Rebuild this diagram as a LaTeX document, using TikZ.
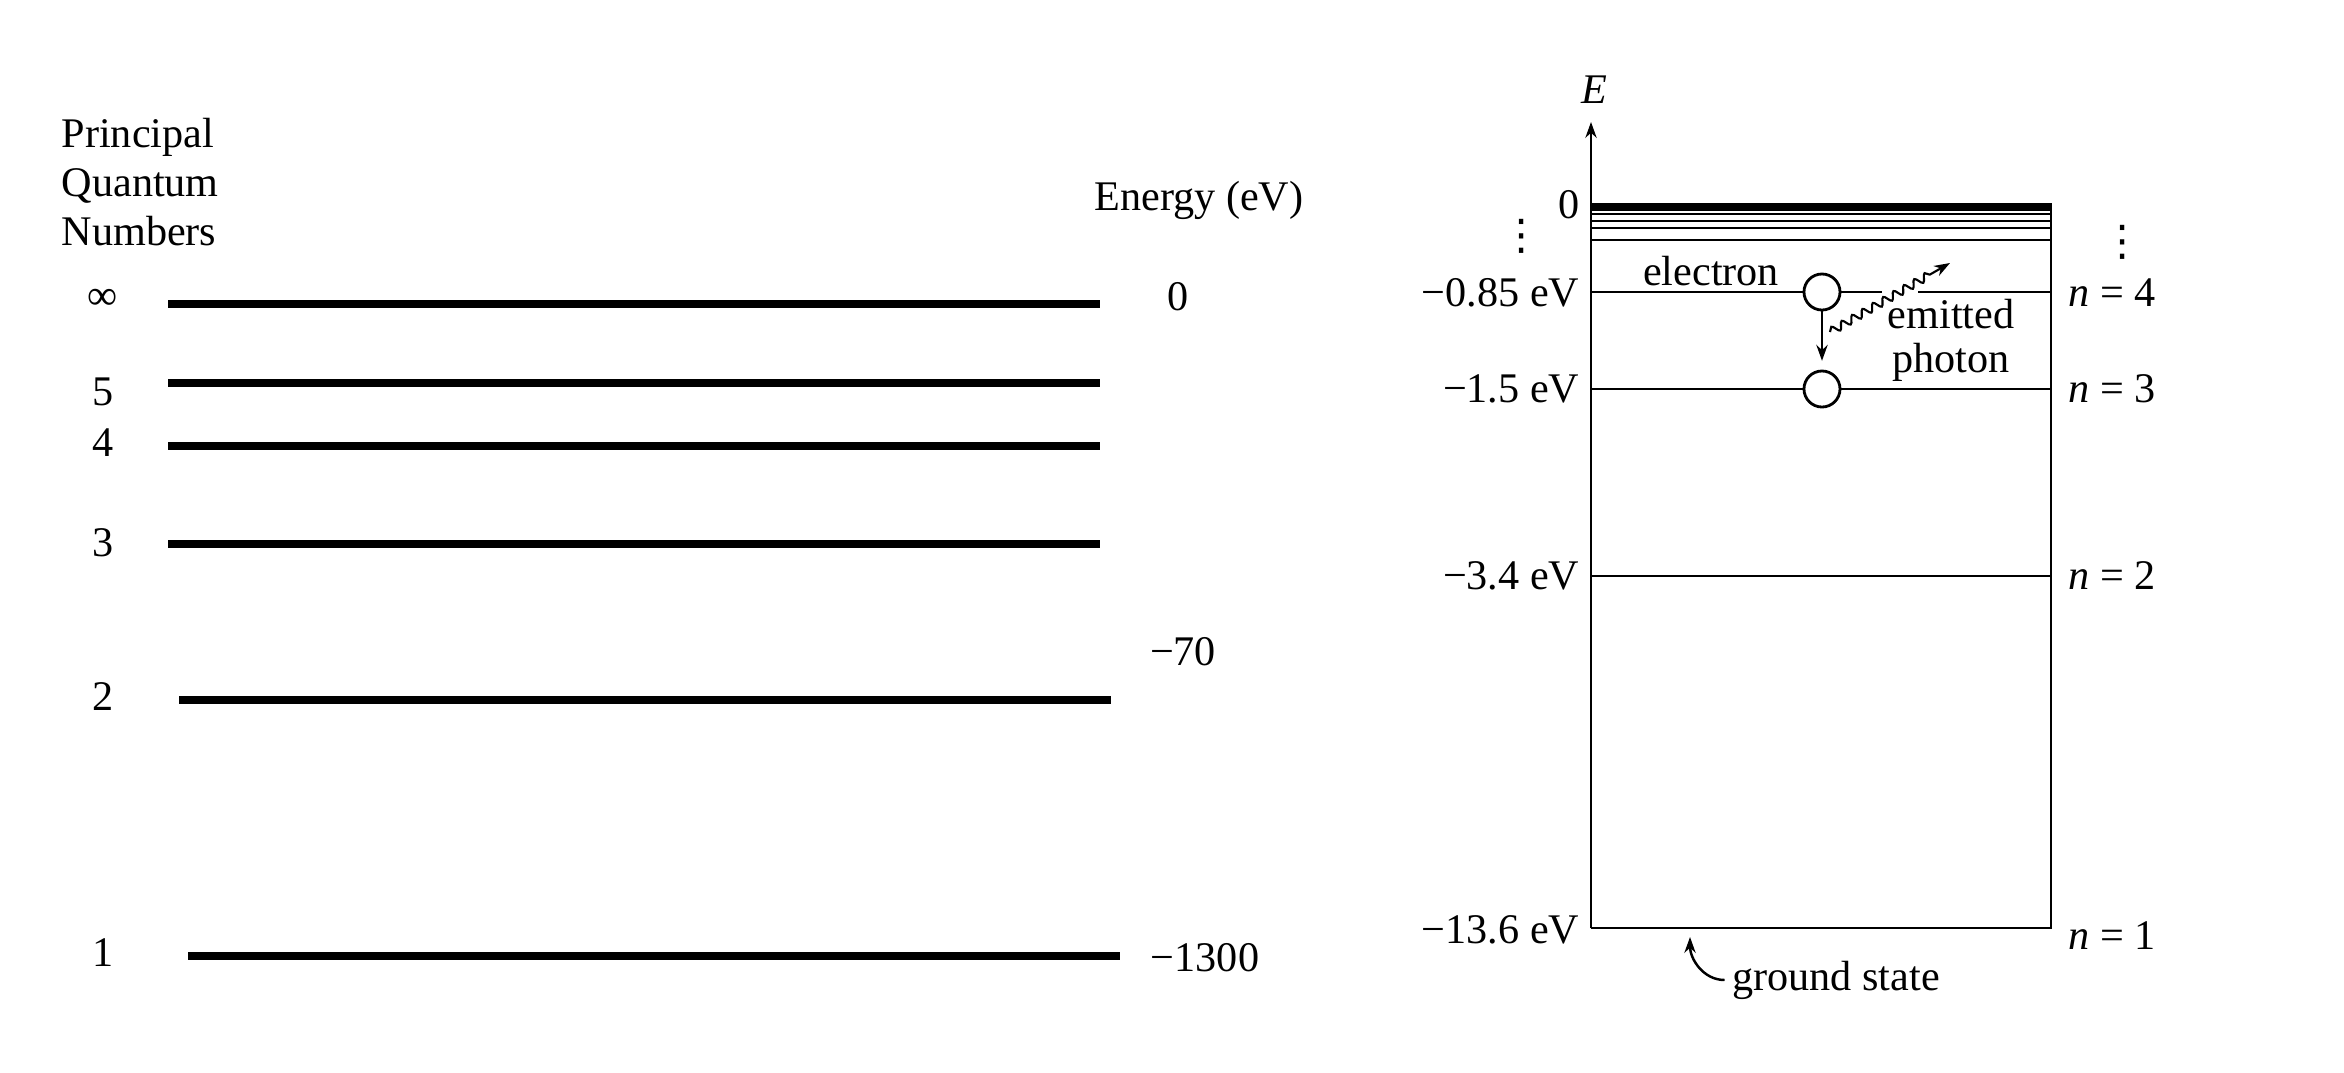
\documentclass[tikz,border=0pt]{standalone}
\usepackage{fontspec}
\setmainfont{Liberation Serif}
\newfontfamily\symfont{DejaVu Sans}
\usetikzlibrary{arrows.meta,positioning,decorations.pathmorphing}

\begin{document}
\begin{tikzpicture}[
    x=0.01cm, y=-0.01cm,
    font=\fontsize{12}{14}\selectfont,
    every node/.style={inner sep=0pt},
    level/.style={line width=2pt},
    thinlevel/.style={line width=0.8pt},
    dotnode/.style={circle, draw, line width=0.8pt, fill=white, minimum size=0.36cm},
    vdotsnode/.style={font=\symfont\fontsize{12}{14}\selectfont},
    line/.style={-{Stealth[length=4.5pt,width=3.2pt]}, line width=0.7pt},
    photon/.style={decorate, decoration={snake, amplitude=1.1pt, segment length=3.4pt, post length=6pt},
        line width=0.6pt, -{Stealth[length=4.5pt,width=3.2pt]}}
]
    \useasboundingbox (0,0) rectangle (2344,1072);

    % Left diagram: principal quantum numbers
    \node[anchor=west, align=left] (title) at (61,182) {Principal\\Quantum\\Numbers};
    \node (energy) at (1199,200) {Energy (eV)};

    \foreach \name/\lab/\y/\xa/\xb/\ly in {inf/∞/304/168/1100/299, five/5/383/168/1100/392,
        four/4/446/168/1100/443, three/3/544/168/1100/543, two/2/700/179/1111/697, one/1/956/188/1120/953}{
        \node (q\name) at (103,\ly) {\lab};
        \draw[level] (\xa,\y) -- (\xb,\y);
    }

    \node (v0) at (1178,297) {0};
    \node (v70) at (1183,652) {−70};
    \node (v1300) at (1205,958) {−1300};

    % Right diagram: energy box with axis
    \coordinate (bl) at (1591,928);
    \coordinate (br) at (2051,928);
    \coordinate (axtop) at (1591,122);
    \draw[line] (bl) -- (axtop);
    \node (E) at (1594,90) {\itshape E};
    \draw[line width=2.3pt] (1591,207) -- (2051,207);
    \draw[thinlevel] (2051,203) -- (br) -- (bl);
    \foreach \y in {214,221,228,240}
        \draw[thinlevel] (1591,\y) -- (2051,\y);

    % Electron on n = 4 and n = 3
    \node[dotnode] (e4) at (1822,292) {};
    \node[dotnode] (e3) at (1822,389) {};
    \draw[thinlevel] (1591,292) -- (e4.west) (e4.east) -- (1882,292) (1918,292) -- (2051,292);
    \draw[thinlevel] (1591,389) -- (e3.west) (e3.east) -- (2051,389);
    \draw[thinlevel] (1591,576) -- (2051,576);

    % Energy labels
    \node[anchor=east] (l0) at (1580,205) {0};
    \node[anchor=east] (l4) at (1580,293) {−0.85 eV};
    \node[anchor=east] (l3) at (1580,389) {−1.5 eV};
    \node[anchor=east] (l2) at (1580,576) {−3.4 eV};
    \node[anchor=east] (l1) at (1580,930) {−13.6 eV};
    \node[vdotsnode] (dl) at (1522,236) {⋮};
    \node[vdotsnode] (dr) at (2123,242) {⋮};

    \node[anchor=west] (n4) at (2068,293) {{\itshape n} = 4};
    \node[anchor=west] (n3) at (2068,389) {{\itshape n} = 3};
    \node[anchor=west] (n2) at (2068,576) {{\itshape n} = 2};
    \node[anchor=west] (n1) at (2068,936) {{\itshape n} = 1};

    \node (elec) at (1711,271) {electron};
    \node[align=center, font=\fontsize{12}{12.5}\selectfont] (emit) at (1951,340) {emitted\\photon};

    % Transition and photon
    \draw[line, shorten >=2.5pt] (e4) -- (e3);
    \coordinate (ph0) at (1830,332);
    \coordinate (ph1) at (1950,263);
    \draw[photon] (ph0) -- (ph1);

    % Ground state pointer
    \node (gs) at (1836,980) {ground state};
    \coordinate (gstip) at (1690,937);
    \draw[line] ([xshift=-2pt]gs.west) to[out=180,in=-90] (gstip);
\end{tikzpicture}
\end{document}
